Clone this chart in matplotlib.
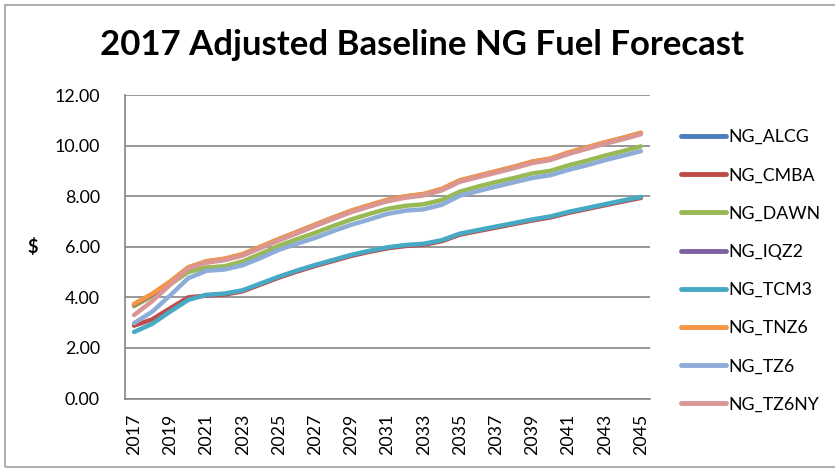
import matplotlib
matplotlib.use('Agg')
import matplotlib.pyplot as plt
from matplotlib.patches import Rectangle

years = list(range(2017, 2046))

ng_alcg = [3.72, 4.12, 4.62, 5.18, 5.42, 5.52, 5.70, 6.00, 6.30, 6.58, 6.87, 7.15, 7.42, 7.64, 7.85,
           7.99, 8.08, 8.28, 8.62, 8.80, 8.98, 9.16, 9.36, 9.48, 9.72, 9.92, 10.12, 10.30, 10.50]
ng_cmba = [2.88, 3.13, 3.57, 4.00, 4.07, 4.11, 4.24, 4.51, 4.78, 5.02, 5.24, 5.44, 5.64, 5.80, 5.94,
           6.03, 6.08, 6.22, 6.48, 6.62, 6.76, 6.90, 7.04, 7.16, 7.34, 7.49, 7.64, 7.79, 7.93]
ng_dawn = [3.65, 4.05, 4.52, 5.00, 5.18, 5.23, 5.42, 5.72, 6.04, 6.30, 6.55, 6.82, 7.08, 7.30, 7.50,
           7.62, 7.68, 7.85, 8.18, 8.38, 8.56, 8.72, 8.90, 9.00, 9.22, 9.40, 9.60, 9.78, 9.97]
ng_iqz2 = [3.71, 4.11, 4.60, 5.16, 5.40, 5.50, 5.68, 5.98, 6.28, 6.56, 6.85, 7.13, 7.40, 7.62, 7.83,
           7.97, 8.06, 8.26, 8.60, 8.78, 8.96, 9.14, 9.34, 9.46, 9.70, 9.90, 10.10, 10.28, 10.48]
ng_tcm3 = [2.63, 2.95, 3.44, 3.90, 4.10, 4.15, 4.28, 4.55, 4.82, 5.06, 5.28, 5.48, 5.68, 5.84, 5.98,
           6.07, 6.12, 6.26, 6.52, 6.66, 6.80, 6.94, 7.08, 7.20, 7.38, 7.53, 7.68, 7.83, 7.97]
ng_tnz6 = [3.74, 4.14, 4.63, 5.19, 5.43, 5.53, 5.71, 6.01, 6.31, 6.59, 6.88, 7.16, 7.43, 7.65, 7.86,
           8.00, 8.09, 8.29, 8.63, 8.81, 8.99, 9.17, 9.37, 9.49, 9.73, 9.93, 10.13, 10.31, 10.51]
ng_tz6 = [2.98, 3.43, 4.08, 4.76, 5.05, 5.10, 5.27, 5.56, 5.88, 6.12, 6.35, 6.62, 6.87, 7.08, 7.30,
          7.43, 7.48, 7.66, 8.02, 8.20, 8.38, 8.55, 8.72, 8.83, 9.04, 9.22, 9.42, 9.60, 9.78]
ng_tz6ny = [3.30, 3.85, 4.50, 5.14, 5.37, 5.47, 5.65, 5.95, 6.25, 6.53, 6.82, 7.10, 7.37, 7.59, 7.80,
            7.94, 8.03, 8.23, 8.57, 8.75, 8.93, 9.11, 9.31, 9.43, 9.67, 9.87, 10.07, 10.25, 10.45]

names = ['NG_ALCG', 'NG_CMBA', 'NG_DAWN', 'NG_IQZ2', 'NG_TCM3', 'NG_TNZ6', 'NG_TZ6', 'NG_TZ6NY']
series = [ng_alcg, ng_cmba, ng_dawn, ng_iqz2, ng_tcm3, ng_tnz6, ng_tz6, ng_tz6ny]
colors = ['#4A7EBB', '#BE4B48', '#98B954', '#7D60A0', '#46AAC5', '#F69544', '#8EACD8', '#D99694']

plt.rcParams['font.family'] = ['Lato', 'DejaVu Sans']

fig = plt.figure(figsize=(8.35, 4.69), dpi=100)
ax = fig.add_axes([0.1497, 0.1503, 0.6287, 0.6471])

x = list(range(len(years)))
for s, c, n in zip(series, colors, names):
    ax.plot(x, s, color=c, lw=3.2, label=n, solid_capstyle='round', solid_joinstyle='round')

ax.set_xlim(-0.5, len(years) - 0.5)
ax.set_ylim(0, 12)
ax.set_yticks([0, 2, 4, 6, 8, 10, 12])
ax.set_yticklabels(['%.2f' % v for v in [0, 2, 4, 6, 8, 10, 12]], fontsize=12.8)
ax.set_xticks(x[::2])
ax.set_xticklabels([str(y) for y in years[::2]], rotation=90, fontsize=12.8)
ax.tick_params(length=0, pad=11)
ax.tick_params(axis='y', pad=18)
ax.yaxis.grid(True, color='#868686', lw=1.2)
ax.set_axisbelow(True)
for sp in ['top', 'right']:
    ax.spines[sp].set_visible(False)
for sp in ['left', 'bottom']:
    ax.spines[sp].set_color('#868686')
    ax.spines[sp].set_linewidth(1.2)

fig.text(33 / 835, 1 - 247 / 469, '$', fontsize=13, fontweight='bold', ha='center', va='center')
fig.text(422 / 835, 1 - 45 / 469, '2017 Adjusted Baseline NG Fuel Forecast', fontsize=25,
         fontweight='bold', ha='center', va='center')

leg = fig.legend(loc='upper left', bbox_to_anchor=(674 / 835, 1 - 122 / 469), frameon=False,
                 fontsize=12.8, handlelength=2.55, handletextpad=0.1, labelspacing=1.25,
                 borderaxespad=0)
for h in leg.get_lines():
    h.set_linewidth(3.5)

fig.patches.append(Rectangle((5 / 835, 2 / 469), 1.0, 1 - 7 / 469, transform=fig.transFigure,
                             fill=False, edgecolor='#A0A0A0', lw=1.2))

fig.savefig('out.png', dpi=100)
